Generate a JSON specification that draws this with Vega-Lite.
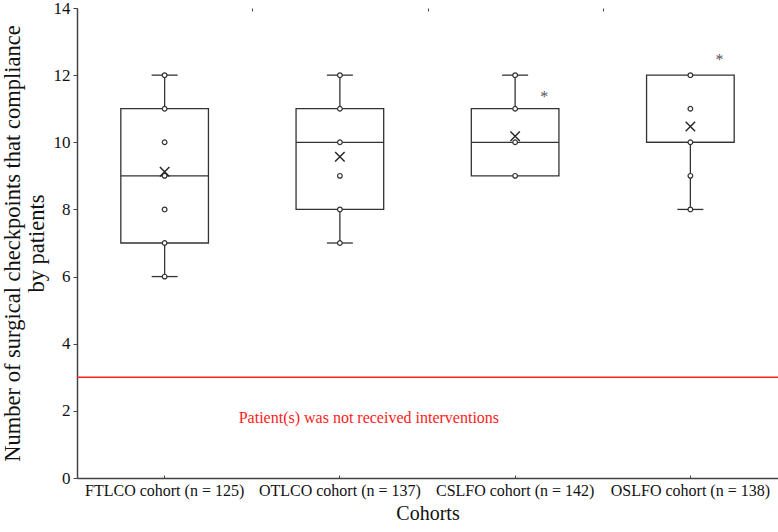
{
  "$schema": "https://vega.github.io/schema/vega-lite/v6.json",
  "autosize": {"type": "none"},
  "padding": {"left": 77, "top": 8, "right": 0, "bottom": 54},
  "width": 701,
  "height": 470,
  "background": "white",
  "config": {
    "view": {"stroke": null},
    "font": "Liberation Serif",
    "axis": {"labelFont": "Liberation Serif", "titleFont": "Liberation Serif", "labelColor": "#111", "titleColor": "#111", "titleFontWeight": "normal", "domainColor": "#444", "tickColor": "#444"}
  },
  "datasets": {
    "boxes": [
      {"cohort": "FTLCO cohort (n = 125)", "min": 6, "q1": 7, "median": 9, "q3": 11, "max": 12, "mean": 9.12},
      {"cohort": "OTLCO cohort (n = 137)", "min": 7, "q1": 8, "median": 10, "q3": 11, "max": 12, "mean": 9.57},
      {"cohort": "CSLFO cohort (n = 142)", "min": 9, "q1": 9, "median": 10, "q3": 11, "max": 12, "mean": 10.18},
      {"cohort": "OSLFO cohort (n = 138)", "min": 8, "q1": 10, "median": 10, "q3": 12, "max": 12, "mean": 10.47}
    ],
    "points": [
      {"cohort": "FTLCO cohort (n = 125)", "value": 6},
      {"cohort": "FTLCO cohort (n = 125)", "value": 7},
      {"cohort": "FTLCO cohort (n = 125)", "value": 8},
      {"cohort": "FTLCO cohort (n = 125)", "value": 9},
      {"cohort": "FTLCO cohort (n = 125)", "value": 10},
      {"cohort": "FTLCO cohort (n = 125)", "value": 11},
      {"cohort": "FTLCO cohort (n = 125)", "value": 12},
      {"cohort": "OTLCO cohort (n = 137)", "value": 7},
      {"cohort": "OTLCO cohort (n = 137)", "value": 8},
      {"cohort": "OTLCO cohort (n = 137)", "value": 9},
      {"cohort": "OTLCO cohort (n = 137)", "value": 10},
      {"cohort": "OTLCO cohort (n = 137)", "value": 11},
      {"cohort": "OTLCO cohort (n = 137)", "value": 12},
      {"cohort": "CSLFO cohort (n = 142)", "value": 9},
      {"cohort": "CSLFO cohort (n = 142)", "value": 10},
      {"cohort": "CSLFO cohort (n = 142)", "value": 11},
      {"cohort": "CSLFO cohort (n = 142)", "value": 12},
      {"cohort": "OSLFO cohort (n = 138)", "value": 8},
      {"cohort": "OSLFO cohort (n = 138)", "value": 9},
      {"cohort": "OSLFO cohort (n = 138)", "value": 10},
      {"cohort": "OSLFO cohort (n = 138)", "value": 11},
      {"cohort": "OSLFO cohort (n = 138)", "value": 12}
    ],
    "stars": [
      {"cohort": "CSLFO cohort (n = 142)", "value": 11.5, "label": "*"},
      {"cohort": "OSLFO cohort (n = 138)", "value": 12.6, "label": "*"}
    ],
    "note": [
      {"cohort": "OTLCO cohort (n = 137)", "value": 1.78, "label": "Patient(s) was not received interventions"}
    ],
    "threshold": [
      {"value": 3}
    ]
  },
  "resolve": {"axis": {"x": "independent"}},
  "layer": [
    {
      "data": {"name": "boxes"},
      "mark": {"type": "rule", "color": "#333", "strokeWidth": 1.3},
      "encoding": {
        "x": {"field": "cohort", "type": "nominal", "sort": null,
          "scale": {"paddingInner": 0, "paddingOuter": 0},
          "axis": {"title": "Cohorts", "titleFontSize": 20, "titlePadding": 5, "labelFontSize": 16, "labelAngle": 0, "labelPadding": 7, "tickSize": -3, "domainWidth": 1.5, "tickBand": "center"}},
        "y": {"field": "min", "type": "quantitative",
          "scale": {"domain": [0, 14], "nice": false, "zero": true},
          "axis": {"title": ["Number of surgical checkpoints that compliance", "by patients"], "titleFontSize": 22.5, "titlePadding": 5, "titleLineHeight": 24,
            "values": [0,0.5,1,1.5,2,2.5,3,3.5,4,4.5,5,5.5,6,6.5,7,7.5,8,8.5,9,9.5,10,10.5,11,11.5,12,12.5,13,13.5,14],
            "labelExpr": "datum.value % 2 == 0 ? datum.label : ''",
            "tickSize": {"condition": {"test": "datum.value % 2 == 0", "value": 4}, "value": 2.5},
            "labelFontSize": 17, "labelPadding": 3, "grid": false, "domainWidth": 1.5}},
        "y2": {"field": "max"}
      }
    },
    {
      "data": {"name": "boxes"},
      "mark": {"type": "bar", "fill": "white", "stroke": "#333", "strokeWidth": 1.3, "width": {"band": 0.5}},
      "encoding": {
        "x": {"field": "cohort", "type": "nominal", "sort": null,
          "axis": {"title": null, "labels": false, "domain": false, "tickBand": "extent", "tickSize": -3}},
        "y": {"field": "q1", "type": "quantitative"},
        "y2": {"field": "q3"}
      }
    },
    {
      "data": {"name": "boxes"},
      "mark": {"type": "tick", "color": "#333", "opacity": 1, "thickness": 1.3, "size": 87.6, "orient": "horizontal"},
      "encoding": {
        "x": {"field": "cohort", "type": "nominal", "sort": null, "axis": null},
        "y": {"field": "median", "type": "quantitative"}
      }
    },
    {
      "data": {"name": "boxes"},
      "transform": [
        {"fold": ["min", "max"], "as": ["key", "capv"]},
        {"filter": "(datum.key == 'min' && datum.min < datum.q1) || (datum.key == 'max' && datum.max > datum.q3)"}
      ],
      "mark": {"type": "tick", "color": "#333", "opacity": 1, "thickness": 1.3, "size": 26, "orient": "horizontal"},
      "encoding": {
        "x": {"field": "cohort", "type": "nominal", "sort": null, "axis": null},
        "y": {"field": "capv", "type": "quantitative"}
      }
    },
    {
      "data": {"name": "points"},
      "mark": {"type": "point", "shape": "circle", "filled": true, "fill": "white", "stroke": "#333", "strokeWidth": 1.2, "size": 22, "opacity": 1},
      "encoding": {
        "x": {"field": "cohort", "type": "nominal", "sort": null, "axis": null},
        "y": {"field": "value", "type": "quantitative"}
      }
    },
    {
      "data": {"name": "boxes"},
      "mark": {"type": "point", "shape": "M-1,-1L1,1M-1,1L1,-1", "filled": false, "stroke": "#222", "strokeWidth": 1.4, "size": 90, "opacity": 1},
      "encoding": {
        "x": {"field": "cohort", "type": "nominal", "sort": null, "axis": null},
        "y": {"field": "mean", "type": "quantitative"}
      }
    },
    {
      "data": {"name": "stars"},
      "mark": {"type": "text", "color": "#555555", "fill": "#555555", "fontSize": 16, "dx": 29, "dy": 5, "font": "Liberation Serif"},
      "encoding": {
        "x": {"field": "cohort", "type": "nominal", "sort": null, "axis": null},
        "y": {"field": "value", "type": "quantitative"},
        "text": {"field": "label"}
      }
    },
    {
      "data": {"name": "threshold"},
      "mark": {"type": "rule", "color": "#ff2020", "stroke": "#ff2020", "strokeWidth": 1.5, "opacity": 1},
      "encoding": {"y": {"field": "value", "type": "quantitative"}}
    },
    {
      "data": {"name": "note"},
      "mark": {"type": "text", "color": "#ff1a1a", "fill": "#ff1a1a", "fontSize": 16, "dx": 29, "font": "Liberation Serif"},
      "encoding": {
        "x": {"field": "cohort", "type": "nominal", "sort": null, "axis": null},
        "y": {"field": "value", "type": "quantitative"},
        "text": {"field": "label"}
      }
    }
  ]
}
